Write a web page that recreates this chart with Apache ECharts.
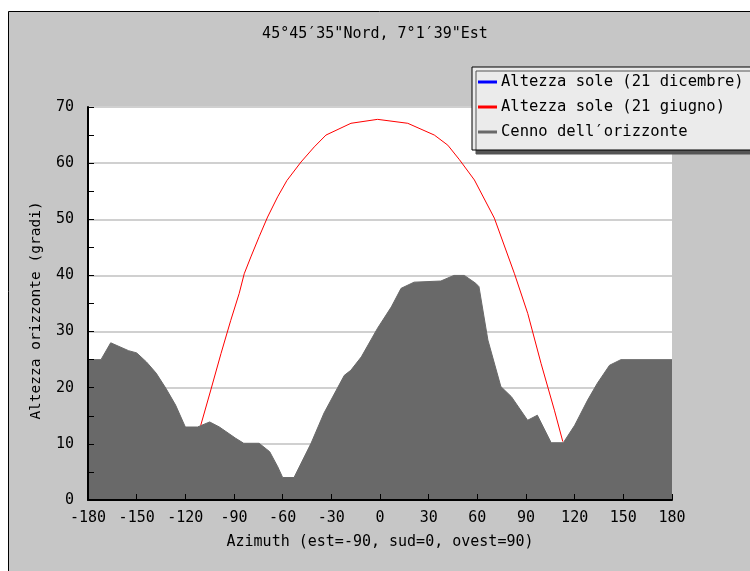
<!DOCTYPE html>
<html>
<head>
<meta charset="utf-8">
<script src="https://cdn.jsdelivr.net/npm/echarts@6/dist/echarts.min.js"></script>
<style>html,body{margin:0;padding:0;background:#fff;}#c{width:750px;height:571px;}</style>
</head>
<body>
<div id="c"></div>
<script>
const titleText = '45°45′35"Nord, 7°1′39"Est';
const xName = 'Azimuth (est=-90, sud=0, ovest=90)';
const yName = 'Altezza orizzonte (gradi)';
const seriesNames = ['Altezza sole (21 dicembre)', 'Altezza sole (21 giugno)', 'Cenno dell′orizzonte'];

const horizonAz = [-180, -172, -166, -155, -150, -144, -138, -132, -126, -120, -112.5, -105, -99, -89, -84, -74.5, -68, -63, -60, -53, -42.5, -34.5, -22, -18, -11.5, -1.5, 7, 13, 21, 37.5, 45.5, 52, 59, 61, 66.5, 74.5, 81, 91, 97, 105.5, 113, 120, 128, 134, 141.5, 148.5, 180];
const horizonAlt = [25, 25, 28, 26.6, 26.2, 24.6, 22.6, 19.9, 16.9, 13, 13, 13.9, 13, 11, 10.1, 10.1, 8.6, 5.9, 4, 4, 10.1, 15.5, 22.2, 23.1, 25.5, 30.6, 34.4, 37.7, 38.8, 39, 40, 40, 38.6, 38, 28.5, 20.2, 18.4, 14.2, 15.1, 10.2, 10.2, 13.3, 17.8, 20.8, 24, 25, 25];

const juneAz = [-110.5, -104.3, -98, -92, -86.8, -83.7, -79.6, -74.5, -69.3, -63.1, -57.4, -48.7, -40.5, -33.3, -17.9, -1.5, 17.1, 33.5, 41.8, 49, 58.2, 70.5, 82.9, 91.1, 99.3, 107.5, 112.7];
const juneAlt = [13.3, 19.6, 26.1, 32, 36.8, 40.3, 43.3, 46.9, 50.4, 54, 56.9, 60.2, 62.9, 65, 67.1, 67.8, 67.1, 65, 63.2, 60.6, 57, 50.2, 40.3, 33.2, 24.3, 16, 10.4];

const decAz = [];
const decAlt = [];

const zip = (a, b) => a.map((v, i) => [v, b[i]]);
const FONT = 'DejaVu Sans Mono';

const chart = echarts.init(document.getElementById('c'), null, {renderer: 'canvas'});
chart.setOption({
  backgroundColor: '#ffffff',
  animation: false,
  graphic: [
    {type: 'rect', z: -100, shape: {x: 8.5, y: 11.5, width: 800, height: 700},
     style: {fill: '#c6c6c6', stroke: '#000', lineWidth: 1}}
  ],
  title: {
    text: titleText, left: 'center', top: 22,
    textStyle: {fontFamily: FONT, fontSize: 15, fontWeight: 'normal', color: '#000'}
  },
  legend: {
    orient: 'vertical', left: 472, top: 67, z: 20,
    padding: [7, 12, 10, 6], itemGap: 9,
    backgroundColor: '#ebebeb', borderColor: '#000', borderWidth: 1,
    shadowColor: '#555', shadowBlur: 0, shadowOffsetX: 4, shadowOffsetY: 4,
    icon: 'rect', itemWidth: 19, itemHeight: 3,
    textStyle: {fontFamily: FONT, fontSize: 15.5, color: '#000', lineHeight: 16, padding: [0, 0, 0, -1]},
    data: seriesNames
  },
  grid: {left: 88, right: 78, top: 107, bottom: 71, show: true, backgroundColor: '#fff', borderWidth: 0},
  xAxis: {
    type: 'value', min: -180, max: 180, interval: 30, z: 5,
    name: xName, nameLocation: 'middle', nameGap: 35,
    nameTextStyle: {fontFamily: FONT, fontSize: 15, color: '#000'},
    axisLine: {onZero: false, lineStyle: {color: '#000', width: 2}},
    axisTick: {inside: true, length: 6, lineStyle: {color: '#000'}},
    axisLabel: {fontFamily: FONT, fontSize: 15, color: '#000', margin: 11},
    splitLine: {show: false}
  },
  yAxis: [
    {
      type: 'value', min: 0, max: 70, interval: 10, position: 'left', z: 5,
      name: yName, nameLocation: 'middle', nameGap: 44,
      nameTextStyle: {fontFamily: FONT, fontSize: 14.5, color: '#000', padding: [0, 14, 0, 0]},
      axisLine: {show: true, onZero: false, lineStyle: {color: '#000', width: 2}},
      axisTick: {show: true, inside: true, length: 6, lineStyle: {color: '#000'}},
      minorTick: {show: true, splitNumber: 2, length: 6, lineStyle: {color: '#000'}},
      axisLabel: {fontFamily: FONT, fontSize: 15, color: '#000', margin: 14},
      splitLine: {show: false}
    },
    {
      type: 'value', min: 0, max: 70, interval: 10, position: 'left', z: 0,
      axisLine: {show: false}, axisTick: {show: false}, axisLabel: {show: false},
      splitLine: {show: true, lineStyle: {color: '#d0d0d0', width: 2}}
    }
  ],
  series: [
    {name: seriesNames[0], type: 'line', color: '#0000ff', data: zip(decAz, decAlt), showSymbol: false, lineStyle: {width: 1, color: '#0000ff'}, z: 3},
    {name: seriesNames[1], type: 'line', color: '#ff0000', data: zip(juneAz, juneAlt), showSymbol: false, lineStyle: {width: 1, color: '#ff0000'}, z: 3},
    {name: seriesNames[2], type: 'line', color: '#696969', data: zip(horizonAz, horizonAlt), showSymbol: false,
     lineStyle: {width: 1, color: '#696969'}, areaStyle: {color: '#696969', opacity: 1}, z: 2}
  ]
});
</script>
</body>
</html>
